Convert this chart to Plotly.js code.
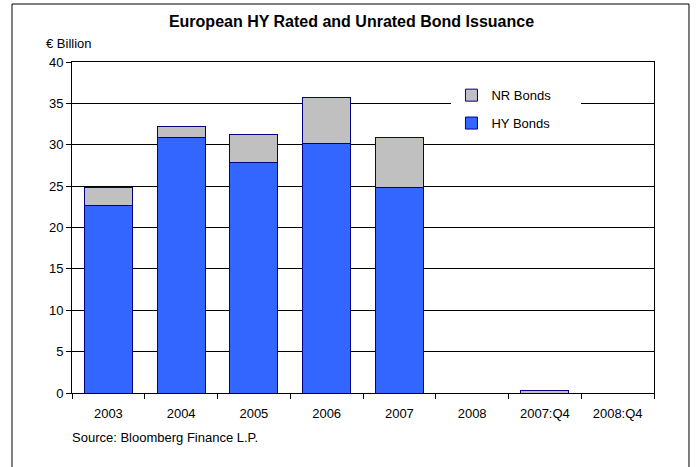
<!DOCTYPE html>
<html>
<head>
<meta charset="utf-8">
<script src="https://cdn.plot.ly/plotly-3.0.1.min.js"></script>
<style>html,body{margin:0;padding:0;background:#fff;}#chart{width:696px;height:467px;}</style>
</head>
<body>
<div id="chart"></div>
<script>
var categories = ["2003", "2004", "2005", "2006", "2007", "2008", "2007:Q4", "2008:Q4"];
var hyBonds = [22.6, 30.9, 27.9, 30.1, 24.8, 0, 0, 0];
var nrBonds = [2.2, 1.3, 3.3, 5.6, 6.1, 0, 0.35, 0];
var yTicks = [0, 5, 10, 15, 20, 25, 30, 35, 40];
var seriesNames = ["HY Bonds", "NR Bonds"];

var FONT = "Liberation Sans, Arial, sans-serif";
var PAD = "\u00a0\u00a0\u00a0\u00a0\u00a0\u00a0\u00a0";

var traces = [
  {type: "bar", name: seriesNames[0] + PAD, x: categories, y: hyBonds, legendgroup: "hy", legendrank: 2,
   marker: {color: "#3366FF", line: {color: "#000080", width: 1}}},
  {type: "bar", name: seriesNames[1] + PAD, x: categories, y: nrBonds, legendgroup: "nr", legendrank: 1,
   marker: {color: "#C0C0C0", line: {color: "#000080", width: 1}}}
];

var layout = {
  width: 696, height: 467,
  margin: {l: 72, r: 42, t: 62, b: 74},
  paper_bgcolor: "#fff", plot_bgcolor: "#fff",
  font: {family: FONT, size: 12, color: "#000"},
  barmode: "stack", bargap: 0.34,
  showlegend: true,
  title: {text: "<b>European HY Rated and Unrated Bond Issuance</b>", font: {family: FONT, size: 16, color: "#000"},
          x: 0.505, xref: "container", xanchor: "center", y: 0.955, yref: "container", yanchor: "middle"},
  xaxis: {type: "category", tickson: "boundaries", ticks: "outside", ticklen: 5, tickcolor: "#000",
          showline: true, linecolor: "#000", linewidth: 1, mirror: true, showgrid: false,
          ticklabelstandoff: 8,
          tickfont: {family: FONT, size: 13}, fixedrange: true},
  yaxis: {range: [0, 40], tickvals: yTicks, ticks: "outside", ticklen: 5, tickcolor: "#000",
          showline: true, linecolor: "#000", linewidth: 1, mirror: true,
          showgrid: true, gridcolor: "#000", gridwidth: 1, zeroline: false,
          tickfont: {family: FONT, size: 13}, fixedrange: true},
  legend: {x: 0.652, y: 0.945, xanchor: "left", yanchor: "top", bgcolor: "#fff", borderwidth: 0,
           traceorder: "grouped", tracegroupgap: 8,
           font: {family: FONT, size: 13}},
  annotations: [
    {text: "€ Billion", xref: "paper", yref: "paper", x: -0.006, y: 1.057, xanchor: "center", yanchor: "middle",
     showarrow: false, font: {family: FONT, size: 13}},
    {text: "Source: Bloomberg Finance L.P.", xref: "paper", yref: "paper", x: -0.003, y: -0.133, xanchor: "left", yanchor: "middle",
     showarrow: false, font: {family: FONT, size: 13}}
  ],
  shapes: [
    {type: "rect", xref: "paper", yref: "paper", x0: -0.1031, x1: 1.0601, y0: -0.5, y1: 1.1752,
     line: {color: "#000", width: 1}, fillcolor: "rgba(0,0,0,0)", layer: "below"}
  ]
};

Plotly.newPlot("chart", traces, layout, {displayModeBar: false, staticPlot: true});
</script>
</body>
</html>
